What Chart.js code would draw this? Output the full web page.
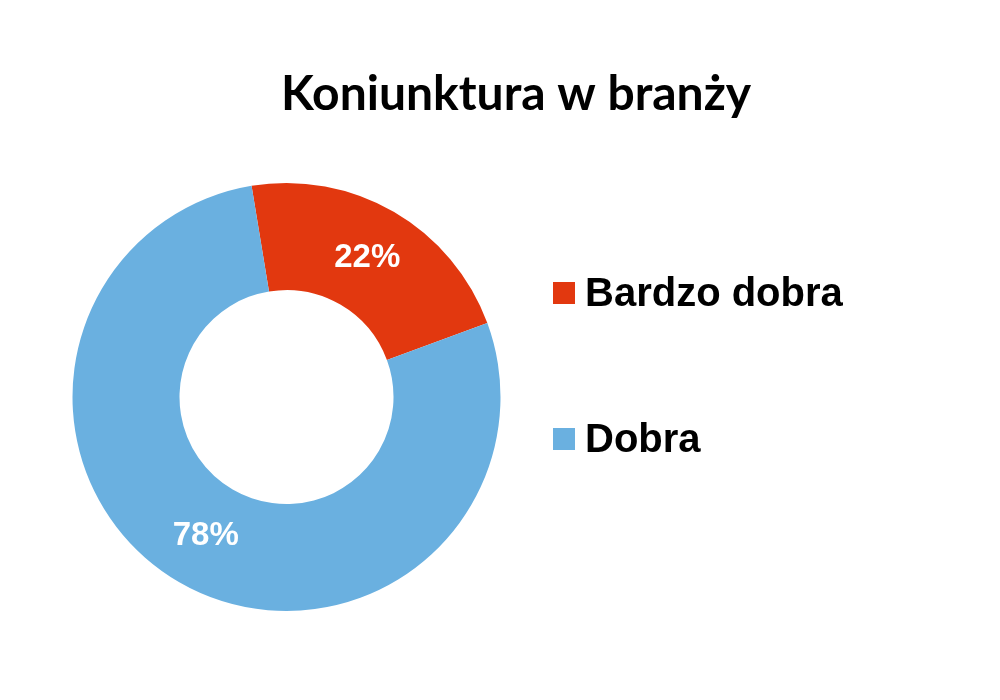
<html lang="pl">
  <head>
    <meta charset="UTF-8" />
    <script src="https://cdn.jsdelivr.net/npm/chart.js"></script>
    <title>Koniunktura w branży</title>
    <style>
      body { margin: 0; background: #ffffff; }
    </style>
  </head>
  <body>
    <canvas id="chart" width="1000" height="700"></canvas>
    <script>
      // data
      const chartTitle = "Koniunktura w branży";
      const categories = ["Bardzo dobra", "Dobra"];
      const shares = [22, 78];
      const sliceColors = ["#e2380f", "#6ab0e0"];

      // slice labels: "22%" in the middle of each arc
      const sliceLabels = {
        id: "sliceLabels",
        afterDatasetsDraw(chart) {
          const ctx = chart.ctx;
          const meta = chart.getDatasetMeta(0);
          ctx.save();
          ctx.font = "bold 33px 'Liberation Sans', Arial, sans-serif";
          ctx.fillStyle = "#ffffff";
          ctx.textAlign = "center";
          ctx.textBaseline = "middle";
          meta.data.forEach((arc, i) => {
            const p = arc.tooltipPosition();
            ctx.fillText(shares[i] + "%", p.x, p.y);
          });
          ctx.restore();
        },
      };

      // title and legend drawn by hand so they sit where the original has them
      const titleAndLegend = {
        id: "titleAndLegend",
        afterDraw(chart) {
          const ctx = chart.ctx;
          ctx.save();
          ctx.fillStyle = "#000000";
          ctx.textAlign = "center";
          ctx.textBaseline = "alphabetic";
          ctx.font = "bold 48px Lato, 'Open Sans', sans-serif";
          ctx.fillText(chartTitle, 516, 110);

          ctx.textAlign = "left";
          ctx.font = "bold 40px 'Liberation Sans', Arial, sans-serif";
          categories.forEach((name, i) => {
            const top = 282 + i * 146;
            ctx.fillStyle = sliceColors[i];
            ctx.fillRect(553, top, 22, 22);
            ctx.fillStyle = "#000000";
            ctx.fillText(name, 585, top + 24);
          });
          ctx.restore();
        },
      };

      new Chart(document.getElementById("chart"), {
        type: "doughnut",
        data: {
          labels: categories,
          datasets: [
            {
              data: shares,
              backgroundColor: sliceColors,
              borderWidth: 0,
            },
          ],
        },
        options: {
          responsive: false,
          animation: false,
          cutout: "50%",
          rotation: -9.4,
          layout: {
            padding: { left: 72, right: 499, top: 183, bottom: 89 },
          },
          plugins: {
            legend: { display: false },
            tooltip: { enabled: false },
          },
        },
        plugins: [sliceLabels, titleAndLegend],
      });
    </script>
  </body>
</html>
